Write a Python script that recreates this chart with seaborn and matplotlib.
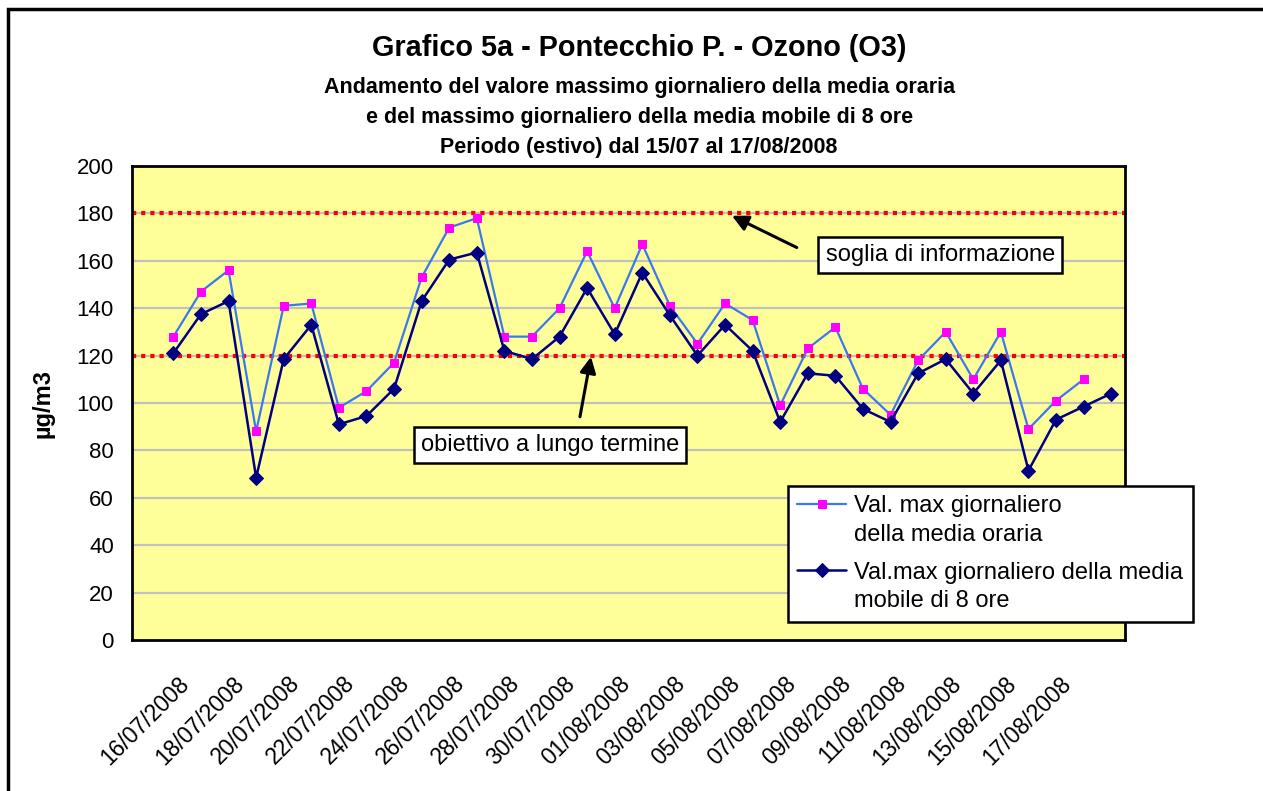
import numpy as np
import pandas as pd
import seaborn as sns
import matplotlib.pyplot as plt
from matplotlib.patches import Rectangle
from matplotlib.transforms import ScaledTranslation

# Giorni dal 15/07 al 19/08/2008 (36 categorie), etichette a giorni alterni
n_days = 36
tick_labels = ["16/07/2008", "18/07/2008", "20/07/2008", "22/07/2008", "24/07/2008",
               "26/07/2008", "28/07/2008", "30/07/2008", "01/08/2008", "03/08/2008",
               "05/08/2008", "07/08/2008", "09/08/2008", "11/08/2008", "13/08/2008",
               "15/08/2008", "17/08/2008"]

# Valore massimo giornaliero della media oraria (ug/m3)
max_media_oraria = [np.nan, 128, 147, 156, 88, 141, 142, 98, 105, 117, 153, 174, 178,
                    128, 128, 140, 164, 140, 167, 141, 125, 142, 135, 99, 123, 132,
                    106, 95, 118, 130, 110, 130, 89, 101, 110, np.nan]
# Valore massimo giornaliero della media mobile di 8 ore (ug/m3)
max_media_mobile_8h = [np.nan, 121, 137.5, 143, 68.5, 118.5, 133, 91, 94.5, 106, 143,
                       160.5, 163.5, 122, 118.5, 128, 148.5, 129, 155, 137, 120, 133,
                       122, 92, 112.5, 111.5, 97.5, 92, 112.5, 118.5, 104, 118, 71.5,
                       93, 98.5, 104]

soglia_informazione = 180
obiettivo_lungo_termine = 120

label_orario = "Val. max giornaliero\ndella media oraria"
label_mobile = "Val.max giornaliero della media\nmobile di 8 ore"

df = pd.DataFrame({"giorno": np.arange(n_days),
                   "orario": max_media_oraria,
                   "mobile": max_media_mobile_8h})

sns.set_style("white")
plt.rcParams['font.family'] = ['Liberation Sans', 'DejaVu Sans']
plt.rcParams.update({"text.color": "black", "axes.labelcolor": "black",
                     "xtick.color": "black", "ytick.color": "black"})

W, H = 1263, 791
fig = plt.figure(figsize=(W / 100, H / 100), dpi=100)
ax = fig.add_axes([132 / W, 1 - 640 / H, (1125 - 132) / W, (640 - 166) / H])
ax.set_facecolor("#FFFF99")

# griglia orizzontale
for v in range(20, 200, 20):
    ax.axhline(v, color="#C0C0C0", lw=1.6, zorder=0)

# soglie
for v in (soglia_informazione, obiettivo_lungo_termine):
    ax.axhline(v, color="#FF0000", lw=3, ls=(0, (1, 1.2)), zorder=1)

sns.lineplot(data=df, x="giorno", y="orario", ax=ax, color="#3A78F0", lw=1.6,
             marker="s", markersize=6.3, markerfacecolor="#FF00FF",
             markeredgecolor="#FF00FF", label=label_orario, zorder=3)
sns.lineplot(data=df, x="giorno", y="mobile", ax=ax, color="#000080", lw=1.8,
             marker="D", markersize=7, markerfacecolor="#000080",
             markeredgecolor="#000080", label=label_mobile, zorder=4)

ax.set_xlim(-0.5, n_days - 0.5)
ax.set_ylim(0, 200)
ax.set_yticks(range(0, 201, 20))
ax.tick_params(axis="y", length=0, pad=13, labelsize=16)

ax.set_xticks(np.arange(1, 1 + 2 * len(tick_labels), 2))
ax.set_xticklabels(tick_labels, rotation=45, ha="right", va="center",
                   rotation_mode="anchor", fontsize=16.5)
ax.set_xticks(np.arange(-0.5, n_days, 1), minor=True)
ax.tick_params(axis="x", which="major", length=0, pad=0)
ax.tick_params(axis="x", which="minor", length=8, width=1.5, direction="out",
               color="black")
offset = ScaledTranslation(12 / 100, -40 / 100, fig.dpi_scale_trans)
for lab in ax.get_xticklabels():
    lab.set_transform(lab.get_transform() + offset)

for s in ax.spines.values():
    s.set_visible(True)
    s.set_color("black")
    s.set_linewidth(2)

ax.set_xlabel("")
ax.set_ylabel("µg/m3", fontsize=17, fontweight="bold")
ax.yaxis.set_label_coords(-0.078, 0.5)

# caselle di testo con frecce
box = dict(boxstyle="square,pad=0.3", fc="white", ec="black", lw=1.8)
arrow = dict(arrowstyle="-|>,head_length=0.6,head_width=0.3", color="black",
             lw=2.2, mutation_scale=16, shrinkA=0, shrinkB=0)
ax.text(28.8, 162.6, "soglia di informazione", fontsize=17, ha="center",
        va="center", bbox=box, zorder=6)
ax.annotate("", xy=(21.25, 179), xytext=(23.6, 165.6), arrowprops=arrow, zorder=6)
ax.text(14.66, 82.4, "obiettivo a lungo termine", fontsize=17, ha="center",
        va="center", bbox=box, zorder=6)
ax.annotate("", xy=(16.14, 119.5), xytext=(15.74, 94.2), arrowprops=arrow, zorder=6)

leg = ax.legend(loc="upper left", bbox_to_anchor=(788 / W, 1 - 486 / H),
                bbox_transform=fig.transFigure, fontsize=17, frameon=True,
                fancybox=False, shadow=False, framealpha=1, edgecolor="black",
                handlelength=2.05, handletextpad=0.35, labelspacing=0.65,
                borderpad=0.4, borderaxespad=0)
leg.get_frame().set_linewidth(1.8)
leg.set_zorder(10)
for t in leg.get_texts():
    t.set_linespacing(1.4)
# simbolo allineato alla prima riga del testo, come in Excel
for col in leg._legend_handle_box.get_children():
    for item in col.get_children():
        item.align = "top"

# titoli
fig.text(0.506, 1 - 48 / H, "Grafico 5a - Pontecchio P. - Ozono (O3)",
         ha="center", va="center", fontsize=20.8, fontweight="bold")
subtitles = ["Andamento del valore massimo giornaliero della media oraria",
             "e del massimo giornaliero della media mobile di 8 ore",
             "Periodo (estivo) dal 15/07 al 17/08/2008"]
for i, line in enumerate(subtitles):
    fig.text(0.506, 1 - (87 + 30 * i) / H, line, ha="center", va="center",
             fontsize=15.5, fontweight="bold")

# cornice esterna
fig.patches.append(Rectangle((8 / W, -0.2), 2, 1.2 - 9 / H, transform=fig.transFigure,
                             fill=False, ec="black", lw=2.5))

fig.savefig("out.png", dpi=100)
